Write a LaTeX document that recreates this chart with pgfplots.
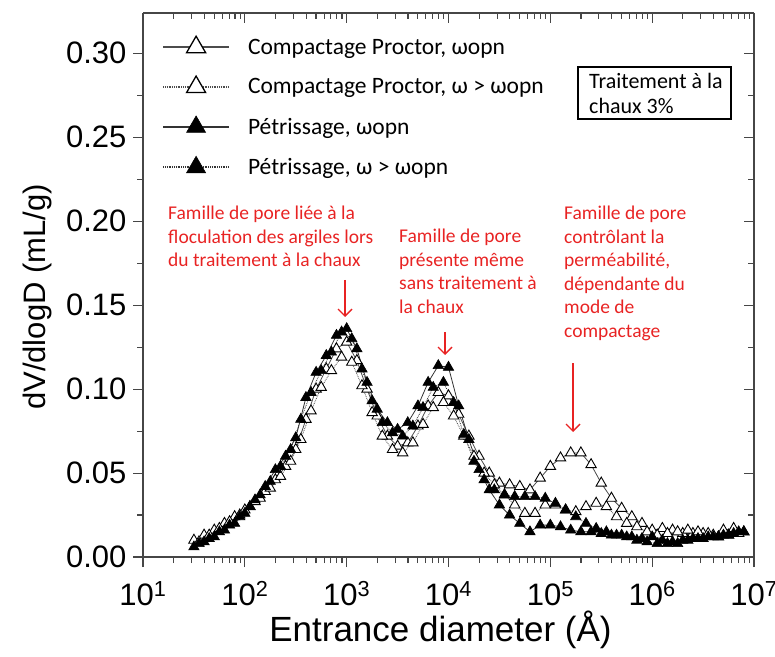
\documentclass[border=0pt]{standalone}
\usepackage{pgfplots}
\usepackage{pgfplotstable}
\pgfplotsset{compat=1.18}
\usepackage{fontspec}
\setmainfont{Liberation Sans}
\newfontfamily\calibri{Carlito}
\usetikzlibrary{arrows.meta}
\definecolor{annored}{RGB}{232,35,35}
\definecolor{axgray}{RGB}{70,70,70}

\pgfplotstableread{
x A C
31.62 0.010 0.006
39.81 0.013 0.009
50.12 0.016 0.012
63.10 0.020 0.016
79.43 0.024 0.020
100 0.028 0.026
125.9 0.033 0.034
158.5 0.039 0.042
199.5 0.046 0.052
251.2 0.054 0.060
316.2 0.064 0.071
398.1 0.082 0.095
501.2 0.100 0.110
631.0 0.112 0.120
794.3 0.124 0.132
1000 0.128 0.136
1259 0.117 0.124
1585 0.100 0.104
1995 0.084 0.088
2512 0.072 0.080
3162 0.066 0.076
3981 0.068 0.080
5012 0.078 0.090
6310 0.090 0.104
7943 0.098 0.114
10000 0.096 0.113
12589 0.085 0.090
15849 0.072 0.070
19953 0.060 0.052
25119 0.050 0.040
31623 0.044 0.031
39811 0.043 0.025
50119 0.042 0.020
63096 0.040 0.015
79433 0.047 0.019
100000 0.054 0.019
125893 0.059 0.018
158489 0.062 0.016
199526 0.062 0.015
251189 0.055 0.015
316228 0.044 0.014
398107 0.035 0.013
501187 0.029 0.013
630957 0.024 0.012
794328 0.020 0.011
1000000 0.016 0.012
1258925 0.017 0.010
1584893 0.016 0.009
1995262 0.014 0.010
2511886 0.014 0.011
3162278 0.014 0.011
3981072 0.013 0.012
5011872 0.016 0.013
6309573 0.017 0.014
7943282 0.015 0.015
}\tabAC

\pgfplotstableread{
x B D
35.48 0.009 0.008
44.67 0.013 0.011
56.23 0.017 0.015
70.79 0.021 0.019
89.13 0.025 0.024
112.2 0.030 0.030
141.3 0.035 0.037
177.8 0.041 0.045
223.9 0.048 0.054
281.8 0.057 0.064
354.8 0.070 0.082
446.7 0.087 0.098
562.3 0.101 0.111
707.9 0.111 0.122
891.3 0.119 0.134
1122 0.116 0.130
1413 0.102 0.112
1778 0.086 0.093
2239 0.072 0.080
2818 0.064 0.074
3548 0.062 0.072
4467 0.068 0.078
5623 0.079 0.089
7079 0.089 0.101
8913 0.092 0.104
11220 0.084 0.092
14125 0.072 0.073
17783 0.060 0.057
22387 0.050 0.046
28184 0.043 0.040
35481 0.037 0.037
44668 0.031 0.036
56234 0.026 0.036
70795 0.026 0.036
89125 0.031 0.035
112202 0.031 0.032
141254 0.028 0.028
177828 0.027 0.024
223872 0.030 0.020
281838 0.032 0.017
354813 0.030 0.015
446684 0.024 0.013
562341 0.020 0.012
707946 0.018 0.010
891251 0.015 0.009
1122018 0.013 0.008
1412538 0.014 0.008
1778279 0.015 0.008
2238721 0.016 0.010
2818383 0.015 0.011
3548134 0.014 0.012
4466836 0.012 0.012
5623413 0.013 0.013
7079458 0.014 0.015
}\tabBD

\begin{document}
\begin{tikzpicture}
\useasboundingbox (-143pt,-99pt) rectangle (632pt,557pt);
% top/right inward ticks
\begin{axis}[
  at={(0pt,0pt)}, anchor=south west,
  scale only axis, width=611pt, height=544pt,
  xmode=log, xmin=10, xmax=1e7, ymin=0, ymax=0.324,
  axis line style={-, draw=axgray, line width=1.3pt},
  tick style={draw=axgray, line width=1.1pt},
  major tick length=10pt, minor tick length=6pt,
  xtick={10,100,1000,10000,100000,1000000,10000000},
  minor xtick={2e1,3e1,4e1,5e1,6e1,7e1,8e1,9e1,2e2,3e2,4e2,5e2,6e2,7e2,8e2,9e2,2e3,3e3,4e3,5e3,6e3,7e3,8e3,9e3,2e4,3e4,4e4,5e4,6e4,7e4,8e4,9e4,2e5,3e5,4e5,5e5,6e5,7e5,8e5,9e5,2e6,3e6,4e6,5e6,6e6,7e6,8e6,9e6},
  ytick={0,0.05,0.1,0.15,0.2,0.25,0.3},
  minor ytick={0.025,0.075,0.125,0.175,0.225,0.275},
  axis x line*=top, axis y line*=right, tick align=inside,
  xticklabels={}, yticklabels={}]
\addplot[draw=none] coordinates {(100,0.1)};
\end{axis}
\begin{axis}[
  at={(0pt,0pt)}, anchor=south west,
  scale only axis, width=611pt, height=544pt,
  xmode=log, xmin=10, xmax=1e7, ymin=0, ymax=0.324,
  axis line style={-, draw=axgray, line width=1.3pt},
  tick style={draw=axgray, line width=1.1pt},
  major tick length=10pt, minor tick length=6pt,
  xtick={10,100,1000,10000,100000,1000000,10000000},
  minor xtick={2e1,3e1,4e1,5e1,6e1,7e1,8e1,9e1,2e2,3e2,4e2,5e2,6e2,7e2,8e2,9e2,2e3,3e3,4e3,5e3,6e3,7e3,8e3,9e3,2e4,3e4,4e4,5e4,6e4,7e4,8e4,9e4,2e5,3e5,4e5,5e5,6e5,7e5,8e5,9e5,2e6,3e6,4e6,5e6,6e6,7e6,8e6,9e6},
  ytick={0,0.05,0.1,0.15,0.2,0.25,0.3},
  minor ytick={0.025,0.075,0.125,0.175,0.225,0.275},
  axis x line*=bottom, axis y line*=left, tick align=outside,
  /pgf/number format/assume math mode=true,
  ticklabel style={font=\fontsize{31}{35}\selectfont},
  yticklabel style={xshift=-3pt, /pgf/number format/fixed, /pgf/number format/fixed zerofill, /pgf/number format/precision=2},
  xticklabel style={yshift=-11pt},
  xticklabels={\mbox{10\textsuperscript{1}},\mbox{10\textsuperscript{2}},\mbox{10\textsuperscript{3}},\mbox{10\textsuperscript{4}},\mbox{10\textsuperscript{5}},\mbox{10\textsuperscript{6}},\mbox{10\textsuperscript{7}}},
  xlabel={Entrance diameter (Å)},
  ylabel={dV/dlogD (mL/g)},
  xlabel style={font=\fontsize{35}{40}\selectfont, at={(axis description cs:0.5,0)}, anchor=center, yshift=-73pt, xshift=-8pt},
  ylabel style={font=\fontsize{31}{35}\selectfont, at={(axis description cs:-0.172,0.478)}, anchor=center},
  legend image code/.code={\draw[mark repeat=2,mark phase=2,#1] plot coordinates {(0pt,0pt) (33pt,0pt) (66pt,0pt)};},
  legend style={at={(0,1)}, anchor=north west, xshift=19pt, yshift=-23pt, draw=none, fill=none,
    font=\calibri\fontsize{23.5}{28}\selectfont, row sep=19.5pt, column sep=17pt, inner sep=0pt, nodes={inner sep=1pt}},
  legend cell align=left,
]
\addplot[black!70, line width=0.8pt, mark=triangle*, mark size=6pt,
  mark options={solid, fill=white, draw=black, line width=0.9pt},
  legend image post style={mark size=11pt, line width=1.8pt, mark options={solid, fill=white, draw=black, line width=1.3pt}}]
  table[x=x, y=A] {\tabAC};
\addlegendentry{Compactage Proctor, ωopn}
\addplot[black!70, line width=0.8pt, densely dotted, mark=triangle*, mark size=6pt,
  mark options={solid, fill=white, draw=black, line width=0.9pt},
  legend image post style={mark size=11pt, line width=1.8pt, mark options={solid, fill=white, draw=black, line width=1.3pt}}]
  table[x=x, y=B] {\tabBD};
\addlegendentry{Compactage Proctor, ω > ωopn}
\addplot[black!80, line width=0.8pt, mark=triangle*, mark size=6pt,
  mark options={solid, fill=black, draw=black, line width=0.6pt},
  legend image post style={mark size=11pt, line width=1.8pt}]
  table[x=x, y=C] {\tabAC};
\addlegendentry{Pétrissage, ωopn}
\addplot[black!80, line width=0.8pt, densely dotted, mark=triangle*, mark size=6pt,
  mark options={solid, fill=black, draw=black, line width=0.6pt},
  legend image post style={mark size=11pt, line width=1.8pt}]
  table[x=x, y=D] {\tabBD};
\addlegendentry{Pétrissage, ω > ωopn}
\end{axis}
% box
\draw[black, line width=1.2pt] (435pt,438pt) rectangle (588pt,490pt);
\node[anchor=north west, align=left, inner sep=0pt, font=\calibri\fontsize{22}{25}\selectfont] at (446pt,484pt) {Traitement à la\\chaux 3\%};
% annotations
\begin{scope}[annored, font=\calibri\fontsize{19.5}{23.5}\selectfont]
\node[anchor=north west, align=left, inner sep=0pt] at (25pt,351pt) {Famille de pore liée à la\\floculation des argiles lors\\du traitement à la chaux};
\node[anchor=north west, align=left, inner sep=0pt] at (256pt,328pt) {Famille de pore\\présente même\\sans traitement à\\la chaux};
\node[anchor=north west, align=left, inner sep=0pt] at (421pt,351pt) {Famille de pore\\contrôlant la\\perméabilité,\\dépendante du\\mode de\\compactage};
\draw[line width=1.4pt, -{Straight Barb[length=7pt,width=14pt]}] (202pt,277pt) -- (202pt,240pt);
\draw[line width=1.4pt, -{Straight Barb[length=7pt,width=14pt]}] (302pt,225pt) -- (302pt,202pt);
\draw[line width=1.4pt, -{Straight Barb[length=7pt,width=14pt]}] (430pt,194pt) -- (430pt,125pt);
\end{scope}
\end{tikzpicture}
\end{document}
